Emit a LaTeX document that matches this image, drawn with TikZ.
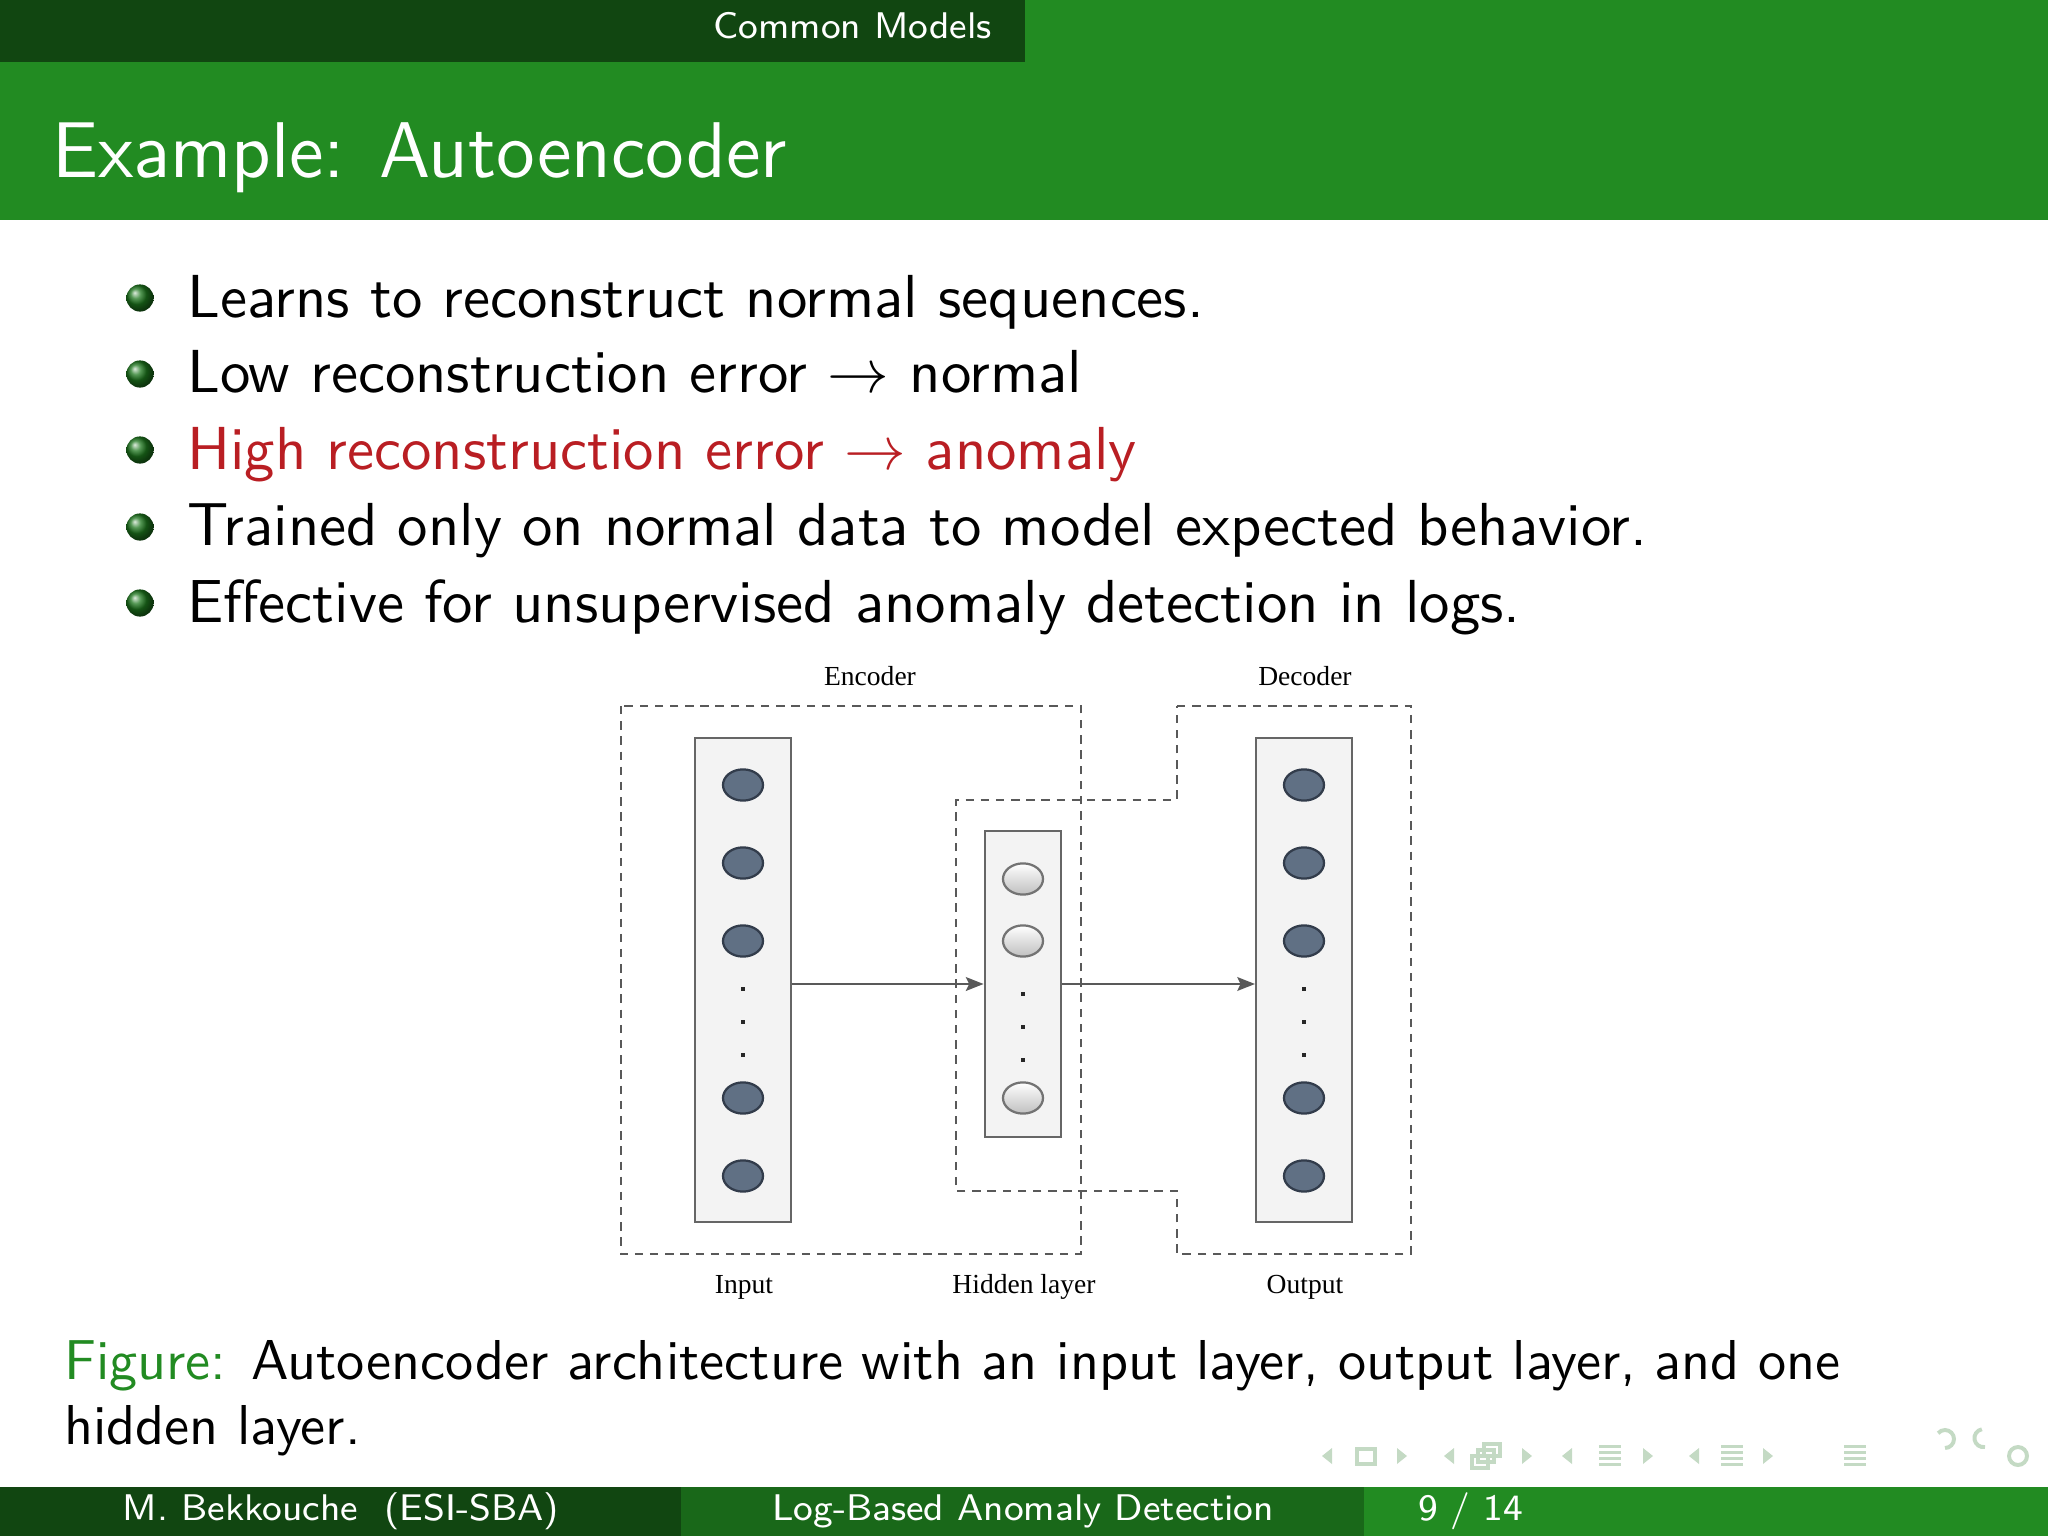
\documentclass[tikz,border=0pt]{standalone}
\usepackage{fontspec}
\usetikzlibrary{shapes.geometric,arrows.meta,positioning}
\newfontfamily\bodyfont{lmsans10-regular.otf}
\newfontfamily\headfont{lmsans12-regular.otf}
\newfontfamily\tinyfont{lmsans8-regular.otf}
\newfontfamily\figfont{Liberation Serif}
\definecolor{sbagreen}{RGB}{34,139,34}
\colorlet{sbadark}{sbagreen!50!black}
\colorlet{sbamid}{sbagreen!75!black}
\definecolor{alertred}{RGB}{185,30,35}
\definecolor{unitfill}{RGB}{96,112,132}
\definecolor{unitline}{RGB}{50,60,75}
\definecolor{layerfill}{RGB}{243,243,243}
\definecolor{navgreen}{RGB}{196,218,196}

\begin{document}
\begin{tikzpicture}[
  x=0.0625mm, y=-0.0625mm,
  txt/.style={anchor=base west, inner sep=0pt, font=\bodyfont\fontsize{10.8}{13.6}\selectfont},
  capt/.style={anchor=base west, inner sep=0pt, font=\bodyfont\fontsize{10}{11.8}\selectfont},
  foot/.style={anchor=base, inner sep=0pt, text=white, font=\tinyfont\fontsize{6.6}{8}\selectfont},
  bullet/.style={circle, inner sep=0pt, minimum size=1.7mm, ball color=sbagreen!85!black},
  layer/.style={
    rectangle, draw=black!60, fill=layerfill, line width=0.35pt,
    minimum width=6mm, minimum height=30.3mm
  },
  unit/.style={
    ellipse, draw=unitline, fill=unitfill, line width=0.4pt,
    minimum width=2.5mm, minimum height=1.95mm, inner sep=0pt
  },
  hunit/.style={
    ellipse, draw=black!55, top color=white, bottom color=black!25, line width=0.4pt,
    minimum width=2.5mm, minimum height=1.95mm, inner sep=0pt
  },
  group/.style={draw=black!65, line width=0.3pt, dash pattern=on 1.5pt off 1.2pt},
  flow/.style={-{Stealth[length=1.1mm, width=0.85mm, inset=0.2mm]}, draw=black!65, line width=0.5pt},
  flabel/.style={inner sep=0pt, font=\figfont\fontsize{4.9}{6}\selectfont},
  nav/.style={fill=navgreen, draw=none}
]
\useasboundingbox (0,0) rectangle (2048,1536);

% ---- head and title ----
\fill[sbagreen] (0,0) rectangle (2048,220);
\fill[sbadark] (0,0) rectangle (1025,62);
\node (section) [foot, anchor=base east] at (993,39) {Common Models};
\node (title) [anchor=base west, inner sep=0pt, text=white,
  font=\headfont\fontsize{14.05}{17}\selectfont] at (51,177) {Example: Autoencoder};

% ---- items ----
\foreach \yb/\txt [count=\i] in {317/{Learns to reconstruct normal sequences.},
    393/{Low reconstruction error $\rightarrow$ normal},
    469/{\color{alertred}High reconstruction error $\rightarrow$ anomaly},
    546/{Trained only on normal data to model expected behavior.},
    622/{Effective for unsupervised anomaly detection in logs.}}{
  \node (item\i) [txt] at (186,\yb) {\txt};
  \node (ball\i) [bullet] at (140,\yb-19) {};
}

% ---- autoencoder figure ----
\draw[group] (621,706) rectangle (1081,1254);
\draw[group] (1177,706) -- (1411,706) -- (1411,1254) -- (1177,1254) -- (1177,1191)
  -- (956,1191) -- (956,800) -- (1177,800) -- cycle;

\node (inbox) [layer] at (743,980) {};
\node (hidbox) [layer, minimum width=4.8mm, minimum height=19.1mm] at (1023,984) {};
\node (outbox) [layer] at (1304,980) {};

\foreach \y [count=\i] in {785,863,941,1098,1176}{
  \node (in\i) [unit] at (743,\y) {};
  \node (out\i) [unit] at (1304,\y) {};
}
\foreach \y [count=\i] in {879,941,1098}
  \node (hid\i) [hunit] at (1023,\y) {};
\foreach \y in {989,1022,1055}{
  \fill[black!85] (741,\y-2) rectangle (745,\y+2);
  \fill[black!85] (1302,\y-2) rectangle (1306,\y+2);
}
\foreach \y in {994,1027,1060}
  \fill[black!85] (1021,\y-2) rectangle (1025,\y+2);

\draw[flow] (inbox.east |- hidbox.west) -- (hidbox.west);
\draw[flow] (hidbox.east) -- (outbox.west |- hidbox.east);

\node (enc) [flabel] at (870,676) {Encoder};
\node (dec) [flabel] at (1305,676) {Decoder};
\node (inlbl) [flabel] at (744,1287) {Input};
\node (hidlbl) [flabel] at (1024,1287) {Hidden layer};
\node (outlbl) [flabel] at (1305,1287) {Output};

% ---- caption ----
\node (caption) [capt] at (63,1379)
  {{\color{sbagreen}Figure:} Autoencoder architecture with an input layer, output layer, and one};
\node (caption2) [capt] at (63,1444) {hidden layer.};

% ---- navigation symbols ----
\foreach \x in {1327,1449,1567,1694}
  \fill[nav] (\x-5,1456) -- (\x+5,1448) -- (\x+5,1464) -- cycle;
\foreach \x in {1402,1527,1648,1768}
  \fill[nav] (\x+5,1456) -- (\x-5,1448) -- (\x-5,1464) -- cycle;
\draw[navgreen, line width=0.6pt] (1357,1449) rectangle (1375,1464);
\draw[navgreen, line width=0.6pt] (1472,1456) rectangle (1488,1468)
  (1478,1450) rectangle (1494,1462) (1484,1444) rectangle (1500,1456);
\foreach \x in {1610,1732,1855}
  \foreach \y in {1446,1452,1458,1464}
    \fill[nav] (\x-11,\y-1.5) rectangle (\x+11,\y+1.5);
\draw[navgreen, line width=0.7pt] (1945,1448) arc (90:-140:9);
\draw[navgreen, line width=0.7pt] (1985,1447) arc (80:260:9);
\draw[navgreen, line width=0.7pt] (2018,1456) circle (9);

% ---- foot ----
\fill[sbadark] (0,1487) rectangle (681,1536);
\fill[sbamid] (681,1487) rectangle (1364,1536);
\fill[sbagreen] (1364,1487) rectangle (2048,1536);
\node (author) [foot] at (341,1520) {M. Bekkouche\ \ (ESI-SBA)};
\node (talk) [foot] at (1023,1520) {Log-Based Anomaly Detection};
\node (page) [foot, anchor=base west] at (1417,1520) {9 / 14};
\end{tikzpicture}
\end{document}
